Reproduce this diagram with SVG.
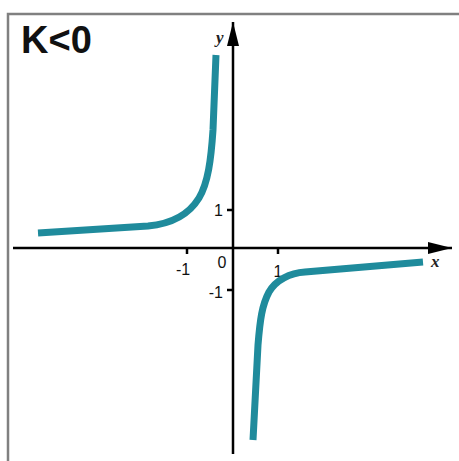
<svg xmlns="http://www.w3.org/2000/svg" width="459" height="461" viewBox="0 0 459 461">
<style>
.axis{stroke:#000;stroke-width:2.5;fill:none}
.tick{stroke:#000;stroke-width:2.5}
.curve{stroke:#1f8b9c;stroke-width:7;fill:none}
.lbl{font-family:"Liberation Sans",Arial,sans-serif;font-size:16px;fill:#111}
.var{font-family:"Liberation Serif","Times New Roman",serif;font-style:italic;font-size:17px;font-weight:bold;fill:#222}
</style>
<defs>
<marker id="ah" viewBox="0 0 24 12" refX="24" refY="6" markerWidth="24" markerHeight="12" markerUnits="userSpaceOnUse" orient="auto">
<path d="M0,0 L24,6 L0,12 Z" fill="#000"/>
</marker>
</defs>
<rect width="459" height="461" fill="#fff"/>
<path d="M8,461 L8,14 L459,14" fill="none" stroke="#808080" stroke-width="2.5"/>
<g id="title"><text x="21" y="53" font-family="Liberation Sans,Arial,sans-serif" font-weight="bold" font-size="38" fill="#111">K&lt;0</text></g>
<g id="connectors">
<line class="axis" x1="13" y1="248" x2="452" y2="248" marker-end="url(#ah)"/>
<line class="axis" x1="233" y1="454" x2="233" y2="22" marker-end="url(#ah)"/>
<line class="tick" x1="187" y1="248" x2="187" y2="254"/>
<line class="tick" x1="278" y1="248" x2="278" y2="254"/>
<line class="tick" x1="227" y1="210" x2="233" y2="210"/>
<line class="tick" x1="227" y1="290" x2="233" y2="290"/>
</g>
<g id="labels">
<text class="var" x="216" y="43">y</text>
<text class="var" x="431" y="267">x</text>
<text class="lbl" x="183" y="275" text-anchor="middle">-1</text>
<text class="lbl" x="222" y="268" text-anchor="middle">0</text>
<text class="lbl" x="278" y="277" text-anchor="middle">1</text>
<text class="lbl" x="223" y="216" text-anchor="end">1</text>
<text class="lbl" x="223" y="298" text-anchor="end">-1</text>
</g>
<g id="curve-left"><path class="curve" d="M38,233 L148,226 C170,224 188,216 199,198 C208,183 211,160 213,130 L216,55"/></g>
<g id="curve-right"><path class="curve" d="M423,262 L305,272 C290,273 276,280 269,292 C262,305 260,320 258,345 L253,440"/></g>
</svg>
